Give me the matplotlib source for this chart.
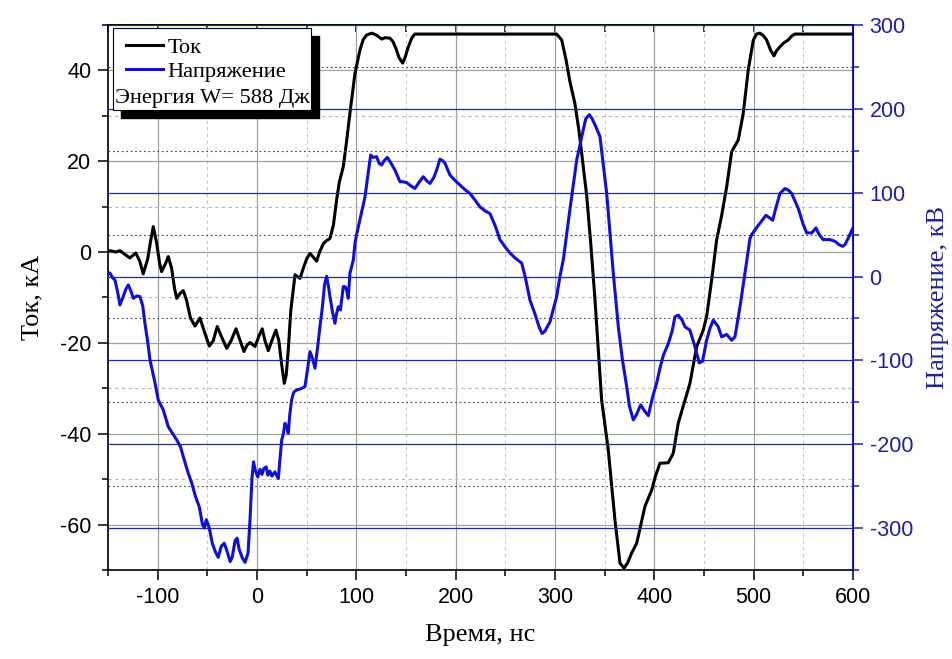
import matplotlib
matplotlib.use("Agg")
import matplotlib.pyplot as plt
from matplotlib.patches import Rectangle
from matplotlib.ticker import MultipleLocator

plt.rcParams["axes.unicode_minus"] = False

# Ток, кА (время в нс)
t_cur = [-150, -148, -142, -138, -133, -128, -122, -118, -114.5, -110, -107, -104.4,
         -101, -98, -96, -92, -89.3, -86, -83, -80.8, -77, -74.2, -71, -67, -62.4,
         -57.4, -53, -48, -44, -40, -35, -30.5, -26, -21.1, -17, -13.1, -10, -7, -2,
         2, 5.3, 8, 11.4, 15, 19.1, 22, 25, 27.5, 29.5, 31.5, 34, 38.3, 43.3, 46, 50,
         53.4, 57, 60.1, 63, 67, 70, 73.5, 77, 80.2, 83, 86.9, 90, 93.6, 98.7, 103.7,
         107, 110.4, 115.5, 120, 125.6, 129, 133.9, 137, 140, 143, 146.7, 149, 152.4,
         156, 159, 301.7, 306.8, 311, 315.1, 320, 324, 326.9, 331.9, 336, 340.3, 347,
         353.7, 360.4, 365.5, 369.5, 373, 377.2, 382.3, 386, 390.6, 397.4, 401, 405.7,
         414.1, 419.1, 424.1, 430.9, 435.9, 442.7, 449.3, 452.7, 457.8, 462.8, 467.8,
         472.9, 477.9, 484.6, 489.6, 494.6, 499.7, 503, 506.4, 510, 513.1, 517, 520.5,
         523, 526.5, 530, 534.9, 538, 541.6, 600]
i_cur = [0.2, 0.3, 0.0, 0.3, -0.5, -1.3, -0.2, -2.0, -4.8, -1.5, 2.5, 5.6,
         2.0, -2.5, -4.3, -2.5, -1.0, -3.5, -8.0, -10.2, -9.0, -8.5, -10.5, -14.5, -16.3,
         -14.5, -17.5, -20.7, -19.5, -16.4, -19.0, -21.2, -19.5, -16.9, -19.5, -21.9, -20.5, -19.9, -20.8,
         -18.5, -16.9, -19.5, -21.7, -19.5, -17.2, -19.5, -25.0, -28.9, -27.0, -21.6, -13.0, -5.0, -5.8, -4.0, -1.5,
         -0.3, -1.2, -2.0, 0.0, 1.9, 2.5, 3.0, 6.0, 11.5, 15.5, 18.8, 24.0, 30.6, 39.4, 44.5,
         46.8, 47.8, 48.2, 47.8, 46.9, 47.2, 47.1, 46.3, 44.8, 42.8, 41.6, 42.8, 45.2,
         47.2, 48.0, 48.0, 46.7, 42.5, 37.5, 32.8, 27.0, 21.8, 12.5, 2.0, -10.5, -32.6,
         -43.6, -59.0, -68.5, -69.6, -68.5, -66.3, -64.1, -60.5, -56.0, -52.4, -49.5, -46.5,
         -46.4, -44.3, -37.7, -32.6, -28.9, -20.8, -17.2, -14.2, -6.1, 2.7, 8.0,
         14.4, 22.1, 24.7, 30.6, 40.1, 46.7, 48.0, 48.2, 47.6, 46.7, 44.5, 43.2,
         44.3, 45.2, 46.0, 46.7, 47.5, 48.0, 48.0]

# Напряжение, кВ (время в нс)
t_volt = [-150, -148, -145, -143, -140, -138, -135, -132, -129.6, -127, -124.5, -121.1,
          -117.8, -115, -112.8, -110, -107.7, -103, -99.4, -94.3, -89.3, -85, -80.8, -77,
          -74.2, -69.2, -66, -62, -58, -55, -53, -51, -48, -45, -42, -39, -36, -33, -30,
          -27, -25, -22, -20, -18, -15, -12, -9, -7, -5, -3.5, -1.5, 0.8, 3, 5, 7, 9.2,
          11, 13, 15, 18, 21.5, 23, 24.9, 26.5, 28.2, 30, 31.5, 33, 34.9, 37, 39.9, 44,
          48.3, 51, 53.4, 56, 58.4, 61, 63.4, 66, 68, 70.1, 72, 73.5, 76, 78.5, 80, 81.9,
          84, 86.9, 88.6, 90, 91.9, 93.6, 97, 98.7, 100.3, 105, 108.8, 111, 114.5, 117,
          120.5, 123, 125.5, 128, 131.2, 135, 138.9, 144, 147, 150.7, 155, 159, 163,
          167.4, 171, 174.2, 178, 180.9, 184.2, 187, 189.3, 194.3, 199, 204.4, 209,
          214.4, 219, 224.5, 230, 234.6, 240, 244.6, 250, 254.7, 260, 266.5, 270, 274.8,
          280, 284, 287, 290, 295, 301.7, 305, 308.4, 315.2, 321.9, 328.5, 331, 334.6,
          337, 340.3, 345.3, 348, 352.1, 358.8, 363.8, 368, 372.2, 375, 378.9, 382,
          386.3, 390, 394, 398, 402.4, 406, 409.1, 414.1, 418, 420.8, 424.2, 428, 430.9,
          435.9, 441, 445.3, 448.6, 452.7, 456, 459.4, 464.4, 467.8, 472.8, 477.9, 481.2,
          486.3, 491.3, 496.3, 498, 504.7, 508, 512.4, 516, 519.2, 522, 526.5, 531.6,
          535, 538.3, 545, 550, 553.4, 558.5, 562.8, 566, 570.1, 576.9, 581.9, 586,
          589.7, 592, 595.4, 600]
u_volt = [5, 3.9, -2, -4.1, -20, -33.9, -25, -15, -10, -17, -26, -23.2,
          -24, -35, -55.8, -78, -99.5, -125, -147.2, -159.2, -179.1, -187, -194.9, -203,
          -214.8, -234.7, -245, -262, -275, -295, -300, -290, -300, -318, -328, -335, -322, -318, -328,
          -340, -335, -315, -312, -325, -335, -341, -330, -290, -240, -221, -232, -239, -230, -236, -229, -227,
          -237, -232, -238, -233, -241, -220, -195, -188, -175, -180, -187, -165, -147.2, -138, -135.3, -134,
          -131.3, -110, -89.6, -98, -109.4, -85, -59.8, -35, -10, 0.2, -12, -24, -42, -55.8, -45, -36,
          -40, -12, -12.1, -15, -26, 3.9, 19.7, 40, 50, 75, 95.2, 115, 145, 142,
          143, 135, 133, 138, 142, 135, 127, 113, 113, 112, 108, 105, 112,
          119, 114, 111, 118, 127, 140, 138, 135, 121, 115, 109, 104,
          99, 92, 83, 78, 75, 60, 44, 35, 28, 22, 16, 0, -28,
          -45, -60, -68, -65, -54, -24, 0, 20, 81, 139, 175, 188, 193,
          189, 181, 167, 140, 99, 3, -60, -100, -131, -155, -171, -165,
          -153, -160, -166, -145, -127, -108, -94, -80, -65, -48, -46, -52, -60,
          -64, -84, -103, -101, -76, -62, -52, -60, -72, -69, -76, -72,
          -36, 4, 45, 50, 61, 66, 73, 70, 67, 80, 99, 105,
          103, 99, 81, 62, 52, 52, 58, 50, 44, 44, 42, 38,
          36, 38, 46, 58]

energy_text = "Энергия W= 588 Дж"

blue = "#1010d0"
navy = "#20209a"
serif = "Liberation Serif"
sans = "Liberation Sans"

fig = plt.figure(figsize=(9.53, 6.59), dpi=100)
ax = fig.add_axes([0.1133, 0.1351, 0.7817, 0.827])
ax2 = ax.twinx()

l1, = ax.plot(t_cur, i_cur, color="black", lw=2.2, zorder=3)
l2, = ax2.plot(t_volt, u_volt, color=blue, lw=2.2, zorder=3)

ax.set_xlim(-150, 600)
ax.set_ylim(-70, 50)
ax2.set_ylim(-350, 300)

ax.xaxis.set_major_locator(MultipleLocator(100))
ax.xaxis.set_minor_locator(MultipleLocator(50))
ax.yaxis.set_major_locator(MultipleLocator(20))
ax.yaxis.set_minor_locator(MultipleLocator(10))
ax2.yaxis.set_major_locator(MultipleLocator(100))
ax2.yaxis.set_minor_locator(MultipleLocator(50))

# сетка как в Origin
ax.xaxis.grid(True, which="major", color="#a0a0a0", lw=0.9, ls="-")
ax.xaxis.grid(True, which="minor", color="#c8c8c8", lw=0.8, ls=(0, (3, 3)))
ax.yaxis.grid(True, which="major", color="#a0a0a0", lw=0.9, ls="-")
ax.yaxis.grid(True, which="minor", color="#b8b8b8", lw=0.8, ls=(0, (3, 3)))
ax2.yaxis.grid(True, which="major", color="#2a2a8a", lw=0.9, ls="-")
ax2.yaxis.grid(True, which="minor", color="#404060", lw=0.8, ls=(0, (1.5, 2.5)))
ax.set_axisbelow(True)
ax2.set_axisbelow(True)

for s in ["left", "bottom", "top"]:
    ax.spines[s].set_linewidth(1.2)
ax2.spines["right"].set_color("#0000c0")
ax2.spines["right"].set_linewidth(1.2)
ax2.spines["left"].set_visible(False)
ax2.spines["top"].set_visible(False)
ax2.spines["bottom"].set_visible(False)

ax.tick_params(axis="both", which="major", direction="out", length=7, width=1.1,
               labelsize=15.5, pad=5)
ax.tick_params(axis="both", which="minor", direction="out", length=4, width=1.1)
ax2.tick_params(axis="y", which="major", direction="out", length=7, width=1.1,
                labelsize=15.5, pad=5, colors=navy)
ax2.tick_params(axis="y", which="minor", direction="out", length=4, width=1.1, colors=navy)
for lab in ax.get_xticklabels() + ax.get_yticklabels() + ax2.get_yticklabels():
    lab.set_family(sans)

top = ax.secondary_xaxis("top")
top.xaxis.set_major_locator(MultipleLocator(100))
top.xaxis.set_minor_locator(MultipleLocator(50))
top.tick_params(which="both", direction="in", length=5, width=1.1, labeltop=False)
top.spines["top"].set_linewidth(1.2)

ax.set_xlabel("Время, нс", fontsize=19, family=serif, labelpad=12)
ax.set_ylabel("Ток, кА", fontsize=19, family=serif, labelpad=12)
ax2.set_ylabel("Напряжение, кВ", fontsize=19, family=serif, color=navy, labelpad=10)

# легенда с тенью
ax2.add_patch(Rectangle((0.0174, 0.8293), 0.2658, 0.1505, transform=ax2.transAxes,
                        facecolor="black", edgecolor="black", zorder=10, clip_on=False))
ax2.add_patch(Rectangle((0.0067, 0.844), 0.2658, 0.1505, transform=ax2.transAxes,
                        facecolor="white", edgecolor="black", lw=0.8, zorder=11, clip_on=False))
leg = ax2.legend([l1, l2], ["Ток", "Напряжение"], loc="upper left",
                 bbox_to_anchor=(0.0025, 1.006), frameon=False, borderpad=0.2,
                 handlelength=1.65, handletextpad=0.2, labelspacing=0.15,
                 prop={"family": serif, "size": 16.2})
leg.set_zorder(12)
ax2.text(0.0094, 0.866, energy_text, transform=ax2.transAxes, fontsize=16.2,
         family=serif, va="center", ha="left", zorder=13)

fig.savefig("out.png", dpi=100)
